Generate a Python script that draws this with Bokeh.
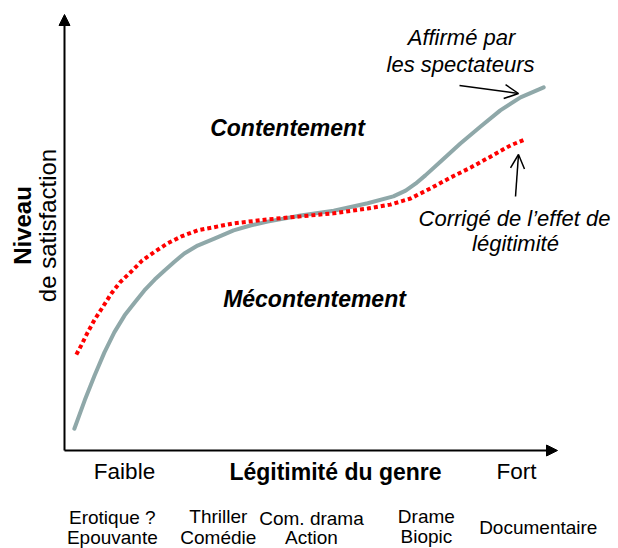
from math import pi
from bokeh.plotting import figure
from bokeh.models import Range1d, Arrow, NormalHead, OpenHead
from bokeh.core.properties import value
from bokeh.embed import file_html
from bokeh.resources import INLINE

# ---------------- data (legitimacy 0-10, satisfaction 0-10) ----------------
legit_declared = [0.20, 0.41, 0.61, 0.81, 1.01, 1.22, 1.42, 1.62, 1.83, 2.03, 2.23,
                  2.43, 2.70, 3.04, 3.43, 3.77, 4.12, 4.79, 5.46, 6.15, 6.67, 6.92,
                  7.12, 7.32, 7.63, 8.03, 8.44, 8.84, 9.25, 9.72]
sat_declared = [0.50, 1.15, 1.72, 2.25, 2.71, 3.10, 3.39, 3.67, 3.92, 4.13, 4.33,
                4.52, 4.70, 4.86, 5.05, 5.16, 5.25, 5.39, 5.50, 5.67, 5.83, 5.96,
                6.12, 6.31, 6.63, 7.04, 7.43, 7.80, 8.10, 8.33]

legit_corrected = [0.24, 0.34, 0.47, 0.61, 0.77, 0.95, 1.12, 1.36, 1.58, 1.83, 2.09,
                   2.37, 2.70, 2.98, 3.43, 4.12, 4.79, 5.46, 6.15, 6.61, 7.02, 7.42,
                   7.83, 8.24, 8.64, 9.05, 9.33]
sat_corrected = [2.20, 2.41, 2.71, 3.00, 3.28, 3.60, 3.85, 4.11, 4.36, 4.56, 4.75,
                 4.91, 5.05, 5.11, 5.21, 5.30, 5.37, 5.44, 5.55, 5.64, 5.78, 6.01,
                 6.26, 6.49, 6.74, 7.00, 7.13]

genre_line1 = ["Erotique ?", "Thriller", "Com. drama", "Drame", "Documentaire"]
genre_line2 = ["Epouvante", "Comédie", "Action", "Biopic", ""]
genre_legit = [0.97, 3.12, 5.01, 7.34, 9.61]

axis_low, axis_high = "Faible", "Fort"
x_title = "Légitimité du genre"
y_title1, y_title2 = "Niveau", "de satisfaction"
zone_high, zone_low = "Contentement", "Mécontentement"
note_declared = ["Affirmé par", "les spectateurs"]
note_corrected = ["Corrigé de l’effet de", "légitimité"]

# ---------------- layout ----------------
W, H = 618, 548
KX, KY = 49.3, 43.6          # pixels per unit
OX, OY = 64, 450             # page position of origin


def fx(px):
    return (px - OX) / KX


def fy(py):
    return (OY - py) / KY


p = figure(width=W, height=H, output_backend="svg", toolbar_location=None,
           x_range=Range1d(fx(0), fx(W)), y_range=Range1d(fy(H), fy(0)),
           min_border=0, border_fill_color="white", outline_line_color=None)
p.axis.visible = False
p.grid.visible = False

FONT = value("Liberation Sans")

# axes with arrowheads
p.add_layout(Arrow(x_start=0, y_start=0, x_end=10, y_end=0, line_width=2, line_color="black",
                   end=NormalHead(size=11, fill_color="black", line_color="black", line_width=1)))
p.add_layout(Arrow(x_start=0, y_start=0, x_end=0, y_end=10, line_width=2, line_color="black",
                   end=NormalHead(size=11, fill_color="black", line_color="black", line_width=1)))

# curves
p.line(legit_declared, sat_declared, line_color="#8FA8A9", line_width=4,
       line_cap="round", line_join="round")
p.line(legit_corrected, sat_corrected, line_color="#FF0000", line_width=4,
       line_dash="4 3", line_cap="butt", line_join="round")

# annotation arrows
p.add_layout(Arrow(x_start=fx(459), y_start=fy(85), x_end=fx(518), y_end=fy(93),
                   line_width=1.5, line_color="black",
                   end=OpenHead(size=14, line_width=1.5, line_color="black")))
p.add_layout(Arrow(x_start=fx(515), y_start=fy(196), x_end=fx(518), y_end=fy(154),
                   line_width=1.5, line_color="black",
                   end=OpenHead(size=14, line_width=1.5, line_color="black")))


def label(xs, ys, texts, size, style="normal", angle=0.0):
    p.text(x=xs, y=ys, text=texts, angle=angle, text_font=FONT, text_font_size=size,
           text_font_style=style, text_color="black", text_align="center",
           text_baseline="middle")


# zone labels
label([fx(287)], [fy(127)], [zone_high], "23px", "bold italic")
label([fx(314)], [fy(298)], [zone_low], "23px", "bold italic")

# curve notes
label([fx(461), fx(460)], [fy(37), fy(64)], note_declared, "22px", "italic")
label([fx(514), fx(515)], [fy(218), fy(243)], note_corrected, "22px", "italic")

# x axis labels
label([fx(124), fx(516)], [fy(471), fy(471)], [axis_low, axis_high], "22.5px")
label([fx(335)], [fy(471)], [x_title], "23px", "bold")

# y axis title
label([fx(22)], [fy(225)], [y_title1], "24px", "bold", angle=pi / 2)
label([fx(47)], [fy(225)], [y_title2], "24px", "normal", angle=pi / 2)

# genre labels
line1_y = [fy(517), fy(516), fy(518), fy(516), fy(527)]
line2_y = [fy(537), fy(537), fy(537), fy(536), fy(550)]
label(genre_legit, line1_y, genre_line1, "19px")
label(genre_legit, line2_y, genre_line2, "19px")

open("out.html", "w").write(file_html(p, INLINE))
